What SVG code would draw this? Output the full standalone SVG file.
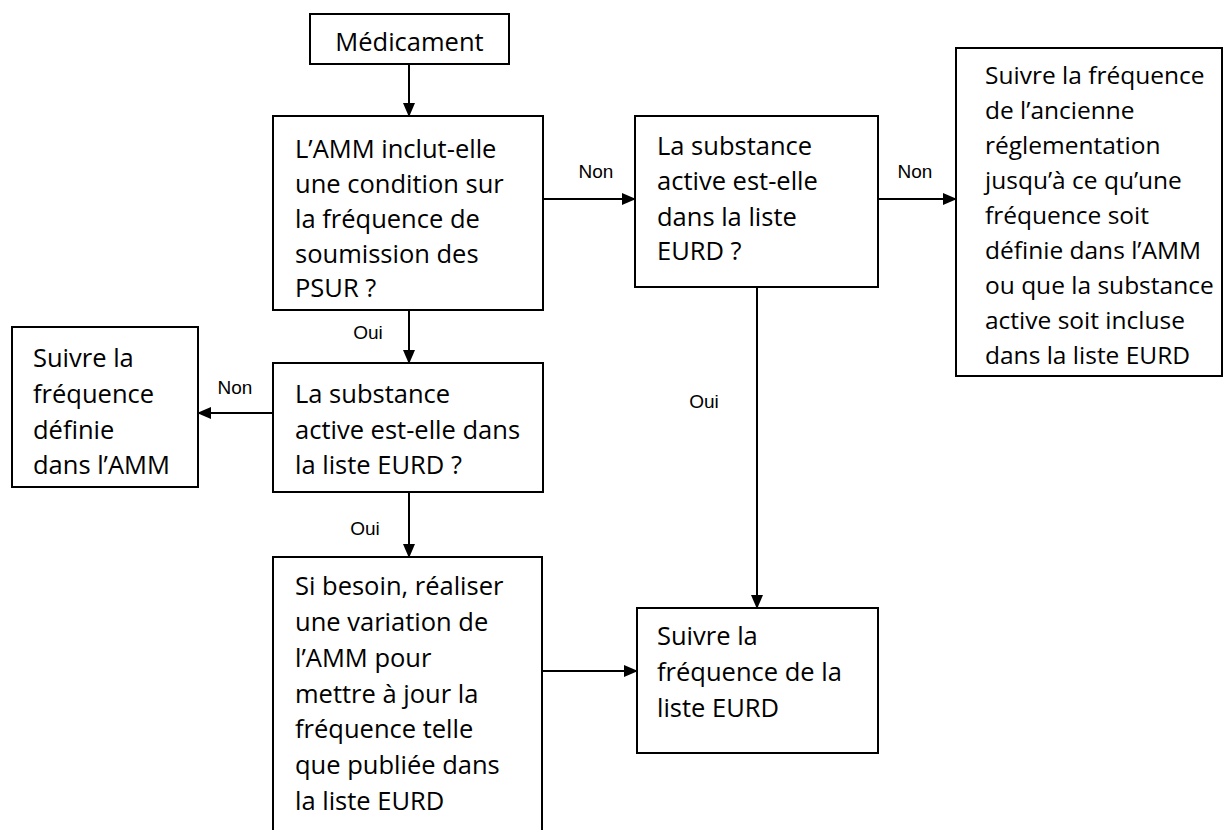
<svg xmlns="http://www.w3.org/2000/svg" width="1225" height="830" viewBox="0 0 1225 830">
<style>
.box{fill:#fff;stroke:#000;stroke-width:2}
.t{font-family:"Open Sans","Liberation Sans",sans-serif;font-size:25.5px;fill:#000}
.ts{font-size:24.5px}
.lbl{font-family:"Liberation Sans",Arial,sans-serif;font-size:19px;fill:#000;text-anchor:middle}
.c{stroke:#000;stroke-width:2;fill:none;marker-end:url(#ah)}
</style>
<defs>
<marker id="ah" markerUnits="userSpaceOnUse" markerWidth="14" markerHeight="12" refX="13" refY="6" orient="auto">
<path d="M0,0 L14,6 L0,12 Z" fill="#000"/>
</marker>
</defs>
<rect width="1225" height="830" fill="#fff"/>
<g id="connectors">
<line class="c" x1="409" y1="64" x2="409" y2="116"/>
<line class="c" x1="409" y1="310" x2="409" y2="363"/>
<line class="c" x1="409" y1="492" x2="409" y2="557"/>
<line class="c" x1="543" y1="199" x2="635" y2="199"/>
<line class="c" x1="878" y1="199" x2="956" y2="199"/>
<line class="c" x1="273" y1="413" x2="198" y2="413"/>
<line class="c" x1="757" y1="287" x2="757" y2="608"/>
<line class="c" x1="542" y1="671" x2="637" y2="671"/>
<text class="lbl" x="596" y="178">Non</text>
<text class="lbl" x="915" y="178">Non</text>
<text class="lbl" x="368" y="339">Oui</text>
<text class="lbl" x="235" y="394">Non</text>
<text class="lbl" x="704" y="408">Oui</text>
<text class="lbl" x="365" y="535">Oui</text>
</g>
<g id="n-medicament">
<rect class="box" x="310" y="14" width="199" height="50"/>
<text class="t" x="409.5" y="51" text-anchor="middle">Médicament</text>
</g>
<g id="n-amm">
<rect class="box" x="273" y="116" width="270" height="194"/>
<text class="t" x="295" y="158">L’AMM inclut-elle</text>
<text class="t" x="295" y="193">une condition sur</text>
<text class="t" x="295" y="228">la fréquence de</text>
<text class="t" x="295" y="263">soumission des</text>
<text class="t" x="295" y="297">PSUR ?</text>
</g>
<g id="n-eurd-top">
<rect class="box" x="635" y="116" width="243" height="171"/>
<text class="t" x="657" y="155">La substance</text>
<text class="t" x="657" y="190">active est-elle</text>
<text class="t" x="657" y="226">dans la liste</text>
<text class="t" x="657" y="260">EURD ?</text>
</g>
<g id="n-ancienne">
<rect class="box" x="956" y="48" width="266" height="328"/>
<text class="t ts" x="985" y="84">Suivre la fréquence</text>
<text class="t ts" x="985" y="119">de l’ancienne</text>
<text class="t ts" x="985" y="154">réglementation</text>
<text class="t ts" x="985" y="189">jusqu’à ce qu’une</text>
<text class="t ts" x="985" y="224">fréquence soit</text>
<text class="t ts" x="985" y="259">définie dans l’AMM</text>
<text class="t ts" x="985" y="294">ou que la substance</text>
<text class="t ts" x="985" y="329">active soit incluse</text>
<text class="t ts" x="985" y="364">dans la liste EURD</text>
</g>
<g id="n-definie">
<rect class="box" x="12" y="327" width="186" height="160"/>
<text class="t" x="33" y="367">Suivre la</text>
<text class="t" x="33" y="403">fréquence</text>
<text class="t" x="33" y="439">définie</text>
<text class="t" x="33" y="474">dans l’AMM</text>
</g>
<g id="n-eurd-mid">
<rect class="box" x="273" y="363" width="270" height="129"/>
<text class="t" x="295" y="403">La substance</text>
<text class="t" x="295" y="439">active est-elle dans</text>
<text class="t" x="295" y="474">la liste EURD ?</text>
</g>
<g id="n-variation">
<rect class="box" x="273" y="557" width="269" height="290"/>
<text class="t" x="295" y="595">Si besoin, réaliser</text>
<text class="t" x="295" y="631">une variation de</text>
<text class="t" x="295" y="667">l’AMM pour</text>
<text class="t" x="295" y="703">mettre à jour la</text>
<text class="t" x="295" y="738">fréquence telle</text>
<text class="t" x="295" y="774">que publiée dans</text>
<text class="t" x="295" y="810">la liste EURD</text>
</g>
<g id="n-suivre-eurd">
<rect class="box" x="637" y="608" width="241" height="145"/>
<text class="t" x="657" y="645">Suivre la</text>
<text class="t" x="657" y="681">fréquence de la</text>
<text class="t" x="657" y="717">liste EURD</text>
</g>
</svg>
